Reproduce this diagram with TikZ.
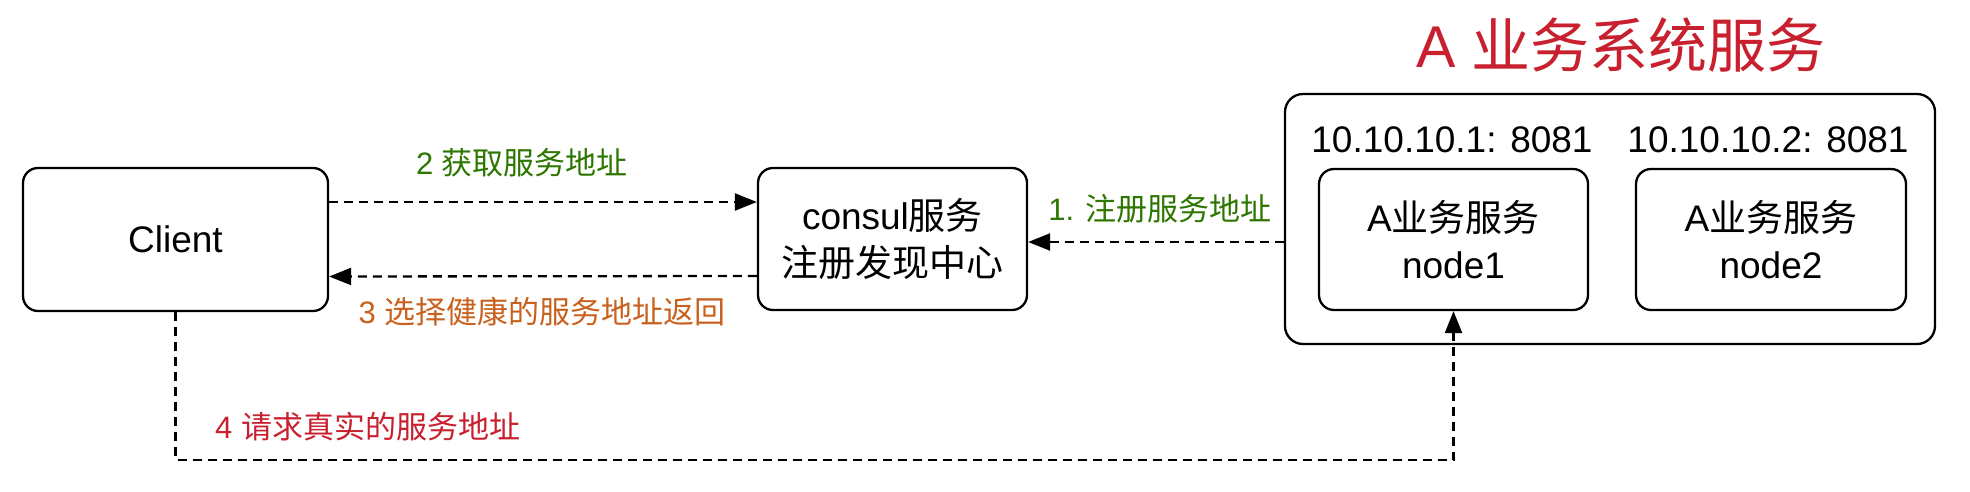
\documentclass[tikz,border=0pt]{standalone}
\usepackage{fontspec}
\setmainfont{Liberation Sans}
\newfontfamily\cjk{Noto Sans CJK SC}
\usetikzlibrary{arrows.meta}
\definecolor{cgreen}{HTML}{2D7600}
\definecolor{corange}{HTML}{C8601E}
\definecolor{cred}{HTML}{C8202E}
\begin{document}
\begin{tikzpicture}[x=1pt,y=-1pt,
  box/.style={draw=black, line width=2.3pt, rounded corners=15pt, inner sep=0pt, align=center, font=\fontsize{37}{47}\selectfont},
  conn/.style={line width=2.3pt, dash pattern=on 9pt off 6pt, -{Triangle[length=22pt,width=17pt]}},
  lbl/.style={anchor=base, inner sep=0pt, font=\fontsize{31}{37}\selectfont},
  iplbl/.style={anchor=base, inner sep=0pt, font=\fontsize{37}{44}\selectfont}]
\useasboundingbox (0,0) rectangle (1970,492);

% boxes
\node[box, minimum width=305pt, minimum height=143pt] (client) at (175.5,239.5) {Client};
\node[box, minimum width=269pt, minimum height=142pt] (consul) at (892.5,239) {consul{\cjk 服务}\\{\cjk 注册发现中心}};
\node[box, rounded corners=18pt, minimum width=650pt, minimum height=250pt] (outer) at (1610,219) {};
\node[box, minimum width=269pt, minimum height=141pt] (node1) at (1453.5,239.5) {A{\cjk 业务服务}\\node1};
\node[box, minimum width=270pt, minimum height=141pt] (node2) at (1771,239.5) {A{\cjk 业务服务}\\node2};

% titles and addresses
\node[anchor=base, inner sep=0pt, text=cred, font=\fontsize{59}{70}\selectfont] (title) at (1621,68) {A {\cjk 业务系统服务}};
\node[iplbl] (ip1) at (1452,153) {10.10.10.1: 8081};
\node[iplbl] (ip2) at (1768,153) {10.10.10.2: 8081};

% connectors
\draw[conn] ([yshift=37.5pt]client.east) -- ([yshift=37pt]consul.west);
\draw[conn] ([yshift=-37pt]consul.west) -- ([yshift=-37pt]client.east);
\draw[conn] ([yshift=-23pt]outer.west) -- ([yshift=-3pt]consul.east);
\draw[conn] (client.south) -- ++(0,148) -| (node1.south);

% connector labels
\node[lbl, text=cgreen] (l2) at (522,174) {2 {\cjk 获取服务地址}};
\node[lbl, text=corange] (l3) at (542,323) {3 {\cjk 选择健康的服务地址返回}};
\node[lbl, text=cgreen] (l1) at (1160,220) {1. {\cjk 注册服务地址}};
\node[lbl, anchor=base west, text=cred] (l4) at (215,438) {4 {\cjk 请求真实的服务地址}};
\end{tikzpicture}
\end{document}
